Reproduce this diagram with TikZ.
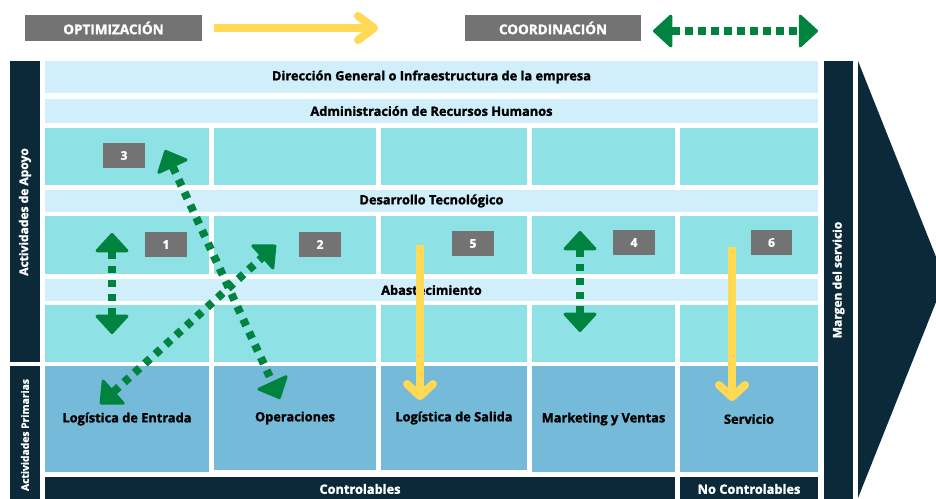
\documentclass[tikz,border=0pt]{standalone}
\usepackage{fontspec}
\setmainfont{Open Sans}[BoldFeatures={FakeBold=1.6}]
\usetikzlibrary{arrows.meta}
\definecolor{navy}{HTML}{0B2939}
\definecolor{lightrow}{HTML}{D1EFFA}
\definecolor{tealcell}{HTML}{8EE1E5}
\definecolor{primcell}{HTML}{76BAD9}
\definecolor{greybox}{HTML}{737373}
\definecolor{arrowgreen}{HTML}{00833E}
\definecolor{arrowyellow}{HTML}{FFD954}
\newcommand{\pbox}[7]{\node[#6, minimum width={(#4)-(#2)}, minimum height={(#5)-(#3)}] (#1) at ({((#2)+(#4))/2},{((#3)+(#5))/2}) {#7};}
\tikzset{
  base/.style={inner sep=0pt, outer sep=0pt, draw=none, font=\bfseries\fontsize{12.8}{14}\selectfont},
  rowbar/.style={base, fill=lightrow},
  cellbox/.style={base, fill=tealcell},
  primbox/.style={base, fill=primcell},
  darkbar/.style={base, fill=navy, text=white},
  numbox/.style={base, fill=greybox, text=white, font=\bfseries\fontsize{12}{14}\selectfont},
  legendbox/.style={base, fill=greybox, text=white, font=\bfseries\fontsize{13.5}{15}\selectfont},
  vtext/.style={rotate=90, text=white, inner sep=0pt, font=\bfseries\fontsize{12}{14}\selectfont},
  greenarrow/.style={draw=arrowgreen, line width=8pt, dash pattern=on 7pt off 7pt,
    {Triangle[round, length=20pt, width=36pt, line width=3pt]}-{Triangle[round, length=20pt, width=36pt, line width=3pt]}},
  legendgreen/.style={greenarrow, dash pattern=on 8pt off 5pt},
  yellowarrow/.style={draw=arrowyellow, line width=8pt, -{Straight Barb[round, length=12pt, width=26pt]}},
  legendyellow/.style={draw=arrowyellow, line width=8pt, -{Straight Barb[round, length=16pt, width=24pt]}},
}
\begin{document}
\begin{tikzpicture}[x=1pt, y=-1pt]
\useasboundingbox (0,0) rectangle (936,498);
\clip (0,0) rectangle (936,498);
% legend
\pbox{opt}{25}{15}{202}{41}{legendbox}{OPTIMIZACIÓN}
\pbox{coord}{465}{15}{641}{41}{legendbox}{COORDINACIÓN}
\coordinate (ly1) at (214,28);
\coordinate (ly2) at (378,28);
\coordinate (lg1) at (653,31);
\coordinate (lg2) at (818,31);
% side bars
\pbox{apoyo}{10}{61}{40}{362}{darkbar}{}
\pbox{prim}{10}{366}{40}{504}{darkbar}{}
\node[vtext] (apoyotxt) at (25,212) {Actividades de Apoyo};
\node[vtext, font=\bfseries\fontsize{10.3}{12}\selectfont] (primtxt) at (25,435) {Actividades Primarias};
\pbox{margen}{824}{61}{853}{504}{darkbar}{}
\node[vtext] (margentxt) at (838.5,280) {Margen del servicio};
\fill[navy] (858,61) -- (945,279.5) -- (858,498) -- cycle;
% support rows
\pbox{dir}{45}{61}{818}{93}{rowbar}{Dirección General o Infraestructura de la empresa}
\pbox{rrhh}{45}{99}{818}{123}{rowbar}{Administración de Recursos Humanos}
\pbox{a1}{45}{128}{209}{185}{cellbox}{}
\pbox{a2}{214}{128}{376}{185}{cellbox}{}
\pbox{a3}{381}{128}{527}{185}{cellbox}{}
\pbox{a4}{532}{128}{675}{185}{cellbox}{}
\pbox{a5}{680}{128}{818}{185}{cellbox}{}
\pbox{tec}{45}{190}{818}{212}{rowbar}{Desarrollo Tecnológico}
\pbox{b1}{45}{216}{209}{274}{cellbox}{}
\pbox{b2}{214}{216}{376}{274}{cellbox}{}
\pbox{b3}{381}{216}{527}{274}{cellbox}{}
\pbox{b4}{532}{216}{675}{274}{cellbox}{}
\pbox{b5}{680}{216}{818}{274}{cellbox}{}
\pbox{abs}{45}{279}{818}{301}{rowbar}{Abastecimiento}
\pbox{c1}{45}{305}{209}{362}{cellbox}{}
\pbox{c2}{214}{305}{376}{362}{cellbox}{}
\pbox{c3}{381}{305}{527}{362}{cellbox}{}
\pbox{c4}{532}{305}{675}{362}{cellbox}{}
\pbox{c5}{680}{305}{818}{362}{cellbox}{}
% primary
\pbox{p1}{45}{366}{209}{472}{primbox}{Logística de Entrada}
\pbox{p2}{214}{366}{376}{470}{primbox}{Operaciones}
\pbox{p3}{381}{366}{527}{470}{primbox}{Logística de Salida}
\pbox{p4}{532}{366}{675}{472}{primbox}{Marketing y Ventas}
\pbox{p5}{680}{366}{818}{472}{primbox}{Servicio}
\pbox{ctrl}{45}{477}{675}{501}{darkbar}{Controlables}
\pbox{noctrl}{680}{477}{818}{501}{darkbar}{No Controlables}
% number boxes
\pbox{n3}{103}{143}{145}{168}{numbox}{3}
\pbox{n1}{145}{232}{187}{257}{numbox}{1}
\pbox{n2}{299}{232}{341}{257}{numbox}{2}
\pbox{n5}{452}{231}{494}{256}{numbox}{5}
\pbox{n4}{613}{230}{655}{255}{numbox}{4}
\pbox{n6}{751}{230}{792}{255}{numbox}{6}
% arrow end points
\coordinate (A1) at (112,233);
\coordinate (A2) at (112,334);
\coordinate (B1) at (165,150);
\coordinate (B2) at (280,399);
\coordinate (C1) at (100,404);
\coordinate (C2) at (276,245);
\coordinate (D1) at (580,231);
\coordinate (D2) at (580,332);
\coordinate (E1) at (420,245);
\coordinate (E2) at (420,400);
\coordinate (F1) at (732,247);
\coordinate (F2) at (732,401);
% arrows
\draw[legendyellow] (ly1) -- (ly2);
\draw[legendgreen] (lg1) -- (lg2);
\draw[yellowarrow] (E1) -- (E2);
\draw[yellowarrow] (F1) -- (F2);
\draw[greenarrow] (A1) -- (A2);
\draw[greenarrow] (B1) -- (B2);
\draw[greenarrow] (C1) -- (C2);
\draw[greenarrow] (D1) -- (D2);
\end{tikzpicture}
\end{document}
